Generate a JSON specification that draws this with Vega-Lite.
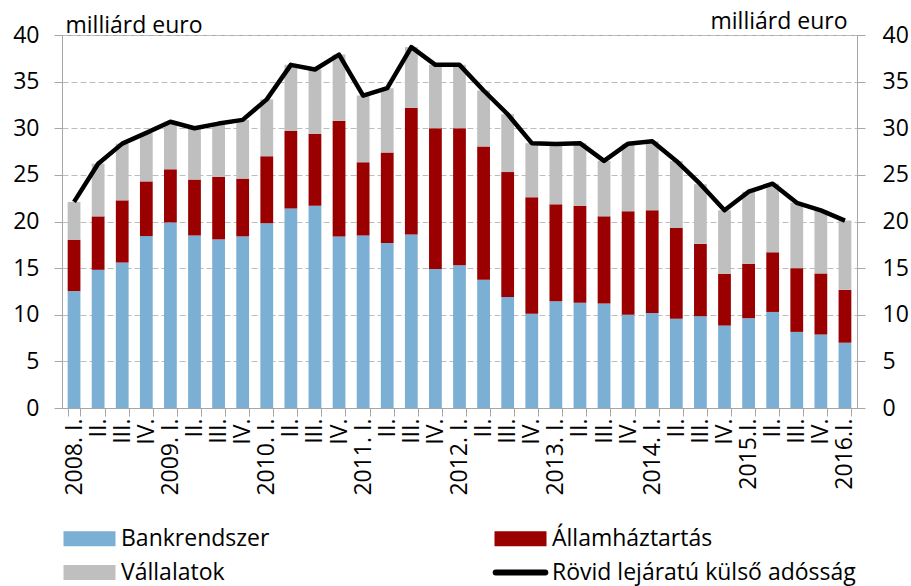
{
  "$schema": "https://vega.github.io/schema/vega-lite/v6.json",
  "width": 795,
  "height": 373,
  "autosize": "none",
  "padding": {"left": 62, "top": 35, "right": 54, "bottom": 178},
  "background": "white",
  "config": {
    "font": "Open Sans",
    "view": {"stroke": "#A6A6A6", "strokeWidth": 1}
  },
  "data": {
    "values": [
      {"q": "2008-1", "Bankrendszer": 12.53, "Államháztartás": 5.52, "Vállalatok": 4.05, "total": 22.1},
      {"q": "2008-2", "Bankrendszer": 14.82, "Államháztartás": 5.73, "Vállalatok": 5.65, "total": 26.2},
      {"q": "2008-3", "Bankrendszer": 15.6, "Államháztartás": 6.67, "Vállalatok": 6.08, "total": 28.35},
      {"q": "2008-4", "Bankrendszer": 18.44, "Államháztartás": 5.86, "Vállalatok": 5.2, "total": 29.5},
      {"q": "2009-1", "Bankrendszer": 19.9, "Államháztartás": 5.7, "Vállalatok": 5.1, "total": 30.7},
      {"q": "2009-2", "Bankrendszer": 18.5, "Államháztartás": 6.0, "Vállalatok": 5.5, "total": 30.0},
      {"q": "2009-3", "Bankrendszer": 18.08, "Államháztartás": 6.72, "Vállalatok": 5.7, "total": 30.5},
      {"q": "2009-4", "Bankrendszer": 18.4, "Államháztartás": 6.2, "Vállalatok": 6.3, "total": 30.9},
      {"q": "2010-1", "Bankrendszer": 19.8, "Államháztartás": 7.2, "Vállalatok": 6.1, "total": 33.1},
      {"q": "2010-2", "Bankrendszer": 21.4, "Államháztartás": 8.3, "Vállalatok": 7.1, "total": 36.8},
      {"q": "2010-3", "Bankrendszer": 21.7, "Államháztartás": 7.7, "Vállalatok": 6.9, "total": 36.3},
      {"q": "2010-4", "Bankrendszer": 18.4, "Államháztartás": 12.4, "Vállalatok": 7.1, "total": 37.9},
      {"q": "2011-1", "Bankrendszer": 18.5, "Államháztartás": 7.85, "Vállalatok": 7.15, "total": 33.5},
      {"q": "2011-2", "Bankrendszer": 17.7, "Államháztartás": 9.7, "Vállalatok": 6.9, "total": 34.3},
      {"q": "2011-3", "Bankrendszer": 18.6, "Államháztartás": 13.6, "Vállalatok": 6.5, "total": 38.7},
      {"q": "2011-4", "Bankrendszer": 14.9, "Államháztartás": 15.1, "Vállalatok": 6.8, "total": 36.8},
      {"q": "2012-1", "Bankrendszer": 15.3, "Államháztartás": 14.7, "Vállalatok": 6.8, "total": 36.8},
      {"q": "2012-2", "Bankrendszer": 13.75, "Államháztartás": 14.3, "Vállalatok": 6.0, "total": 34.05},
      {"q": "2012-3", "Bankrendszer": 11.9, "Államháztartás": 13.4, "Vállalatok": 6.2, "total": 31.5},
      {"q": "2012-4", "Bankrendszer": 10.1, "Államháztartás": 12.5, "Vállalatok": 5.8, "total": 28.4},
      {"q": "2013-1", "Bankrendszer": 11.46, "Államháztartás": 10.38, "Vállalatok": 6.46, "total": 28.3},
      {"q": "2013-2", "Bankrendszer": 11.3, "Államháztartás": 10.4, "Vállalatok": 6.7, "total": 28.4},
      {"q": "2013-3", "Bankrendszer": 11.2, "Államháztartás": 9.35, "Vállalatok": 5.95, "total": 26.5},
      {"q": "2013-4", "Bankrendszer": 10.0, "Államháztartás": 11.1, "Vállalatok": 7.25, "total": 28.35},
      {"q": "2014-1", "Bankrendszer": 10.2, "Államháztartás": 11.0, "Vállalatok": 7.4, "total": 28.6},
      {"q": "2014-2", "Bankrendszer": 9.56, "Államháztartás": 9.74, "Vállalatok": 7.2, "total": 26.5},
      {"q": "2014-3", "Bankrendszer": 9.85, "Államháztartás": 7.75, "Vállalatok": 6.4, "total": 24.0},
      {"q": "2014-4", "Bankrendszer": 8.84, "Államháztartás": 5.56, "Vállalatok": 6.8, "total": 21.2},
      {"q": "2015-1", "Bankrendszer": 9.63, "Államháztartás": 5.84, "Vállalatok": 7.73, "total": 23.2},
      {"q": "2015-2", "Bankrendszer": 10.3, "Államháztartás": 6.4, "Vállalatok": 7.36, "total": 24.06},
      {"q": "2015-3", "Bankrendszer": 8.16, "Államháztartás": 6.84, "Vállalatok": 7.0, "total": 22.0},
      {"q": "2015-4", "Bankrendszer": 7.88, "Államháztartás": 6.55, "Vállalatok": 6.77, "total": 21.2},
      {"q": "2016-1", "Bankrendszer": 7.0, "Államháztartás": 5.67, "Vállalatok": 7.43, "total": 20.1}
    ]
  },
  "layer": [
    {
      "transform": [
        {"fold": ["Bankrendszer", "Államháztartás", "Vállalatok"], "as": ["sorozat", "ertek"]},
        {"lookup": "sorozat", "from": {"data": {"values": [
          {"sorozat": "Bankrendszer", "ord": 1},
          {"sorozat": "Államháztartás", "ord": 2},
          {"sorozat": "Vállalatok", "ord": 3}
        ]}, "key": "sorozat", "fields": ["ord"]}}
      ],
      "mark": {"type": "bar"},
      "encoding": {
        "x": {
          "field": "q", "type": "ordinal", "sort": null,
          "scale": {"paddingInner": 0.47, "paddingOuter": 0.235},
          "axis": {
            "title": null,
            "labelAngle": -90, "labelAlign": "right", "labelBaseline": "middle",
            "labelFontSize": 23, "labelColor": "#000", "labelPadding": 2,
            "labelOverlap": false,
            "tickBand": "extent", "tickSize": 8, "tickColor": "#A6A6A6",
            "domainColor": "#A6A6A6", "grid": false,
            "labelExpr": "!isString(datum.value) || indexof(datum.value, '-') < 0 ? '' : (split(datum.value,'-')[1] == '1' ? (split(datum.value,'-')[0] >= '2015' ? split(datum.value,'-')[0] + '.I.' : split(datum.value,'-')[0] + '. I.') : (split(datum.value,'-')[1] == '2' ? 'II.' : (split(datum.value,'-')[1] == '3' ? 'III.' : (split(datum.value,'-')[1] == '4' ? 'IV.' : ''))))"
          }
        },
        "y": {
          "field": "ertek", "type": "quantitative", "stack": "zero",
          "scale": {"domain": [0, 40], "nice": false},
          "axis": {
            "orient": "left",
            "values": [0, 5, 10, 15, 20, 25, 30, 35, 40],
            "grid": true, "gridDash": [6, 3], "gridColor": "#BDBDBD", "gridWidth": 1,
            "tickSize": 8, "tickColor": "#A6A6A6", "domainColor": "#A6A6A6",
            "labelFontSize": 23, "labelColor": "#000", "labelPadding": 15,
            "title": "milliárd euro", "titleAngle": 0, "titleAlign": "left",
            "titleBaseline": "alphabetic", "titleX": 3, "titleY": -3,
            "titleFontSize": 23, "titleFontWeight": "normal", "titleColor": "#000"
          }
        },
        "order": {"field": "ord", "type": "quantitative", "sort": "ascending"},
        "color": {
          "field": "sorozat", "type": "nominal",
          "scale": {
            "domain": ["Bankrendszer", "Vállalatok", "Államháztartás", "Rövid lejáratú külső adósság"],
            "range": ["#7BAFD4", "#BFBFBF", "#9B0000", "#000000"]
          },
          "legend": {
            "orient": "none", "legendX": 16, "legendY": 492,
            "columns": 2, "columnPadding": 213, "rowPadding": 9,
            "padding": 0, "title": null,
            "symbolSize": 256, "labelFontSize": 23, "labelColor": "#000", "labelOffset": 20,
            "labelLimit": 400,
            "symbolType": "M-3.25,-0.94L3.25,-0.94L3.25,0.94L-3.25,0.94Z",
            "encode": {
              "symbols": {
                "update": {
                  "shape": {"signal": "datum.value === 'Rövid lejáratú külső adósság' ? 'M-3.1,0L3.1,0' : 'M-3.25,-0.94L3.25,-0.94L3.25,0.94L-3.25,0.94Z'"},
                  "fill": {"signal": "datum.value === 'Rövid lejáratú külső adósság' ? 'transparent' : scale('color', datum.value)"},
                  "stroke": {"signal": "datum.value === 'Rövid lejáratú külső adósság' ? '#000000' : 'transparent'"},
                  "strokeWidth": {"signal": "datum.value === 'Rövid lejáratú külső adósság' ? 6 : 0"},
                  "strokeCap": {"value": "round"},
                  "opacity": {"value": 1}
                }
              }
            }
          }
        }
      }
    },
    {
      "mark": {"type": "line", "strokeWidth": 4.5, "strokeJoin": "round"},
      "encoding": {
        "x": {"field": "q", "type": "ordinal", "sort": null},
        "y": {
          "field": "total", "type": "quantitative",
          "axis": {
            "orient": "right",
            "values": [0, 5, 10, 15, 20, 25, 30, 35, 40],
            "grid": false,
            "tickSize": 8, "tickColor": "#A6A6A6", "domainColor": "#A6A6A6",
            "labelFontSize": 23, "labelColor": "#000", "labelPadding": 17,
            "title": "milliárd euro", "titleAngle": 0, "titleAlign": "right",
            "titleBaseline": "alphabetic", "titleX": -10, "titleY": -7,
            "titleFontSize": 23, "titleFontWeight": "normal", "titleColor": "#000"
          }
        },
        "color": {"datum": "Rövid lejáratú külső adósság"}
      }
    }
  ],
  "resolve": {"axis": {"y": "independent"}}
}
